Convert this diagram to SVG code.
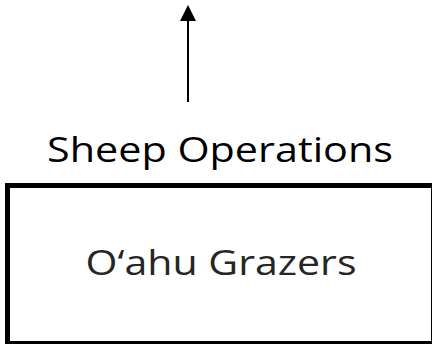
<svg xmlns="http://www.w3.org/2000/svg" width="432" height="344" viewBox="0 0 432 344">
<style>
.lbl{font-family:"Open Sans","Noto Sans","Liberation Sans",sans-serif;font-size:35px;fill:#000;text-anchor:middle}
.box{fill:#fff;stroke:#000;stroke-width:5}
.conn{stroke:#000;stroke-width:2;fill:none}
</style>
<defs>
<marker id="ah" viewBox="0 0 16 16" refX="0" refY="8" markerWidth="16" markerHeight="16" markerUnits="userSpaceOnUse" orient="auto">
<path d="M0,0 L16,8 L0,16 Z" fill="#000"/>
</marker>
</defs>
<rect width="432" height="344" fill="#fff"/>
<g id="connectors">
<line class="conn" x1="188" y1="102" x2="188" y2="21" marker-end="url(#ah)"/>
</g>
<g id="label-sheep">
<text class="lbl" x="220" y="162" textLength="346" lengthAdjust="spacingAndGlyphs">Sheep Operations</text>
</g>
<g id="node-oahu">
<rect class="box" x="7.5" y="185.5" width="426" height="158"/>
<text class="lbl" x="221" y="275" textLength="271" lengthAdjust="spacingAndGlyphs" style="fill:#262626">O‘ahu Grazers</text>
</g>
</svg>
